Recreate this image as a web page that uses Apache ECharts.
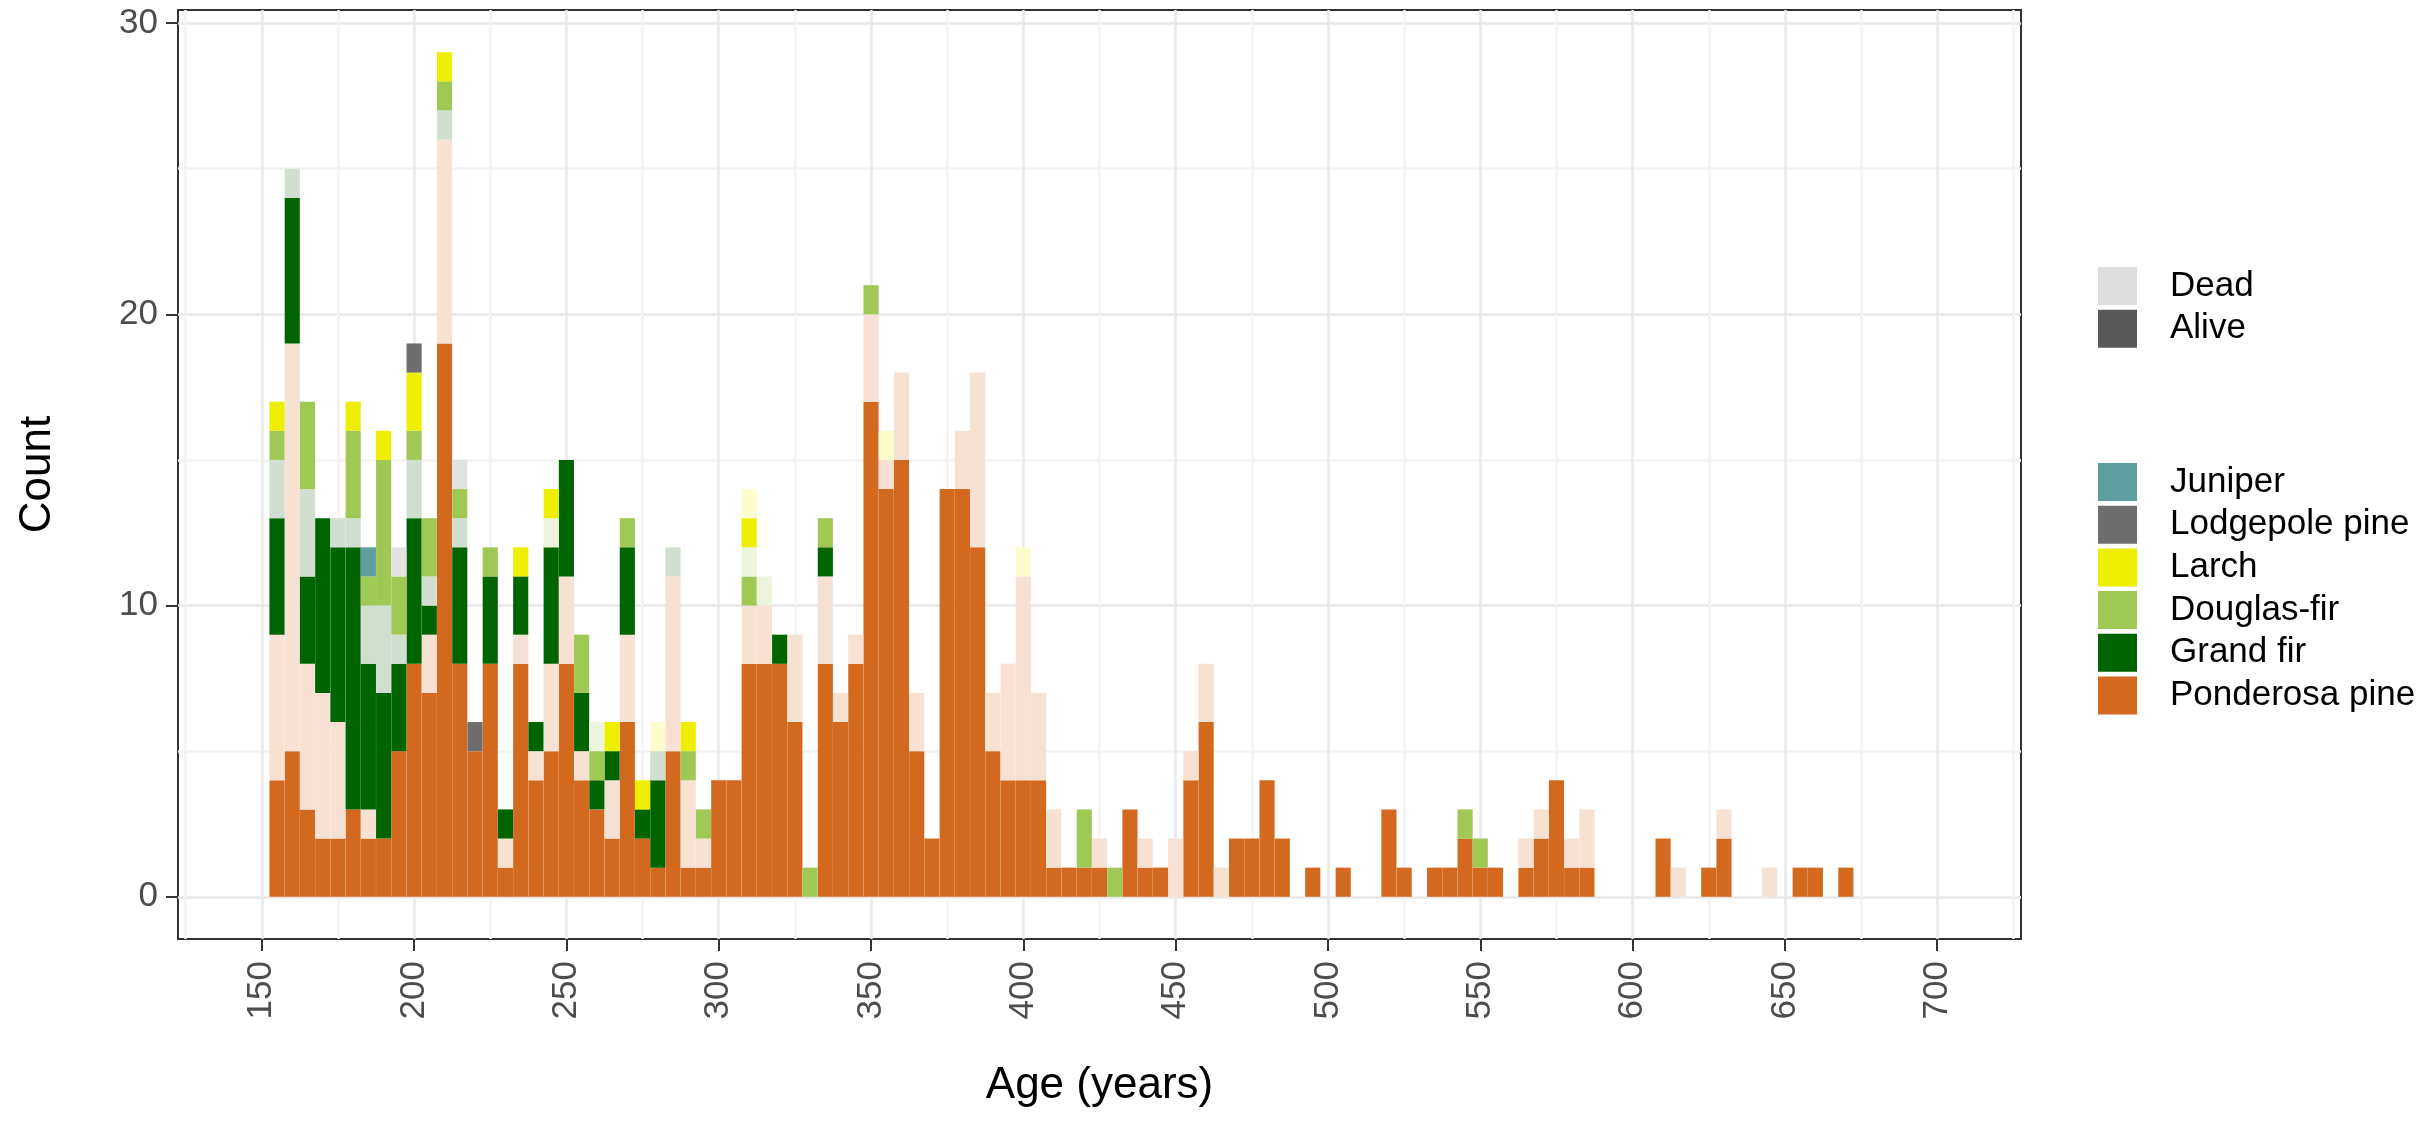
<!DOCTYPE html>
<html><head><meta charset="utf-8">
<script src="https://cdn.jsdelivr.net/npm/echarts@6/dist/echarts.min.js"></script>
<style>html,body{margin:0;padding:0;background:#fff}#c{width:2433px;height:1122px}</style>
</head><body><div id="c"></div>
<script>
// 5-year age bins (bin centres), spanning the full panel range
const bins = [125,130,135,140,145,150,155,160,165,170,175,180,185,190,195,200,205,210,215,220,225,230,235,240,245,250,255,260,265,270,275,280,285,290,295,300,305,310,315,320,325,330,335,340,345,350,355,360,365,370,375,380,385,390,395,400,405,410,415,420,425,430,435,440,445,450,455,460,465,470,475,480,485,490,495,500,505,510,515,520,525,530,535,540,545,550,555,560,565,570,575,580,585,590,595,600,605,610,615,620,625,630,635,640,645,650,655,660,665,670,675,680,685,690,695,700,705,710,715,720,725];
const xTickLabels = [150,200,250,300,350,400,450,500,550,600,650,700];
const xGridLines = [125,150,175,200,225,250,275,300,325,350,375,400,425,450,475,500,525,550,575,600,625,650,675,700,725];
const yTickLabels = [0,10,20,30];
const yGridLines = [0,5,10,15,20,25,30];

// [age bin, count]
const ponderosaAlive = [[155,4],[160,5],[165,3],[170,2],[175,2],[180,3],[185,2],[190,2],[195,5],[200,8],[205,7],[210,19],[215,8],[220,5],[225,8],[230,1],[235,8],[240,4],[245,5],[250,8],[255,4],[260,3],[265,2],[270,6],[275,2],[280,1],[285,5],[290,1],[295,1],[300,4],[305,4],[310,8],[315,8],[320,8],[325,6],[335,8],[340,6],[345,8],[350,17],[355,14],[360,15],[365,5],[370,2],[375,14],[380,14],[385,12],[390,5],[395,4],[400,4],[405,4],[410,1],[415,1],[420,1],[425,1],[435,3],[440,1],[445,1],[455,4],[460,6],[470,2],[475,2],[480,4],[485,2],[495,1],[505,1],[520,3],[525,1],[535,1],[540,1],[545,2],[550,1],[555,1],[565,1],[570,2],[575,4],[580,1],[585,1],[610,2],[625,1],[630,2],[655,1],[660,1],[670,1]];
const ponderosaDead = [[155,5],[160,14],[165,5],[170,5],[175,4],[185,1],[205,2],[210,7],[230,1],[235,1],[240,1],[245,3],[250,3],[255,1],[265,2],[270,3],[285,6],[290,3],[295,1],[310,2],[315,2],[325,3],[335,3],[340,1],[345,1],[350,3],[355,1],[360,3],[365,2],[380,2],[385,6],[390,2],[395,4],[400,7],[405,3],[410,2],[425,1],[440,1],[450,2],[455,1],[460,2],[465,1],[565,1],[570,1],[580,1],[585,2],[615,1],[630,1],[645,1]];
const grandFirAlive = [[155,4],[160,5],[165,3],[170,6],[175,6],[180,9],[185,5],[190,5],[195,3],[200,5],[205,1],[215,4],[225,3],[230,1],[235,2],[240,1],[245,4],[250,4],[255,2],[260,1],[265,1],[270,3],[275,1],[280,3],[320,1],[335,1]];
const grandFirDead = [[155,2],[160,1],[165,3],[175,1],[180,1],[185,2],[190,3],[195,1],[200,2],[205,1],[210,1],[215,1],[280,1],[285,1]];
const douglasFirAlive = [[155,1],[165,3],[180,3],[185,1],[190,5],[195,2],[200,1],[205,2],[210,1],[215,1],[225,1],[255,2],[260,1],[270,1],[290,1],[295,1],[310,1],[330,1],[335,1],[350,1],[420,2],[430,1],[545,1],[550,1]];
const douglasFirDead = [[245,1],[260,1],[310,1],[315,1]];
const larchAlive = [[155,1],[180,1],[190,1],[200,2],[210,1],[235,1],[245,1],[265,1],[275,1],[290,1],[310,1]];
const larchDead = [[280,1],[310,1],[355,1],[400,1]];
const lodgepoleAlive = [[200,1],[220,1]];
const lodgepoleDead = [[195,1],[215,1]];
const juniperAlive = [[185,1]];
const juniperDead = [];

const statusLegend = ['Dead','Alive'];
const speciesLegend = ['Juniper','Lodgepole pine','Larch','Douglas-fir','Grand fir','Ponderosa pine'];

const FONT = '"Liberation Sans", Arial, Helvetica, sans-serif';
const stackDefs = [
  ['Ponderosa pine alive', ponderosaAlive, '#D2691E'],
  ['Ponderosa pine dead', ponderosaDead, '#F6E1D2'],
  ['Grand fir alive', grandFirAlive, '#006400'],
  ['Grand fir dead', grandFirDead, '#D0DFD0'],
  ['Douglas-fir alive', douglasFirAlive, '#A0C855'],
  ['Douglas-fir dead', douglasFirDead, '#ECF4DD'],
  ['Larch alive', larchAlive, '#EEEE00'],
  ['Larch dead', larchDead, '#FCFCCC'],
  ['Lodgepole pine alive', lodgepoleAlive, '#6E6E6E'],
  ['Lodgepole pine dead', lodgepoleDead, '#E2E2E2'],
  ['Juniper alive', juniperAlive, '#5F9EA0'],
  ['Juniper dead', juniperDead, '#DFECEC']
];
const legendColors = {
  'Dead':'#DEDEDE','Alive':'#595959',
  'Juniper':'#5F9EA0','Lodgepole pine':'#6E6E6E','Larch':'#EEEE00',
  'Douglas-fir':'#A0C855','Grand fir':'#006400','Ponderosa pine':'#D2691E'
};

const series = stackDefs.map(([name, arr, color]) => ({
  name, type:'bar', stack:'total', xAxisIndex:0, yAxisIndex:0,
  barWidth:'99.3%', itemStyle:{color}, emphasis:{disabled:true},
  data: arr.map(([a,c]) => [String(a), c])
}));
Object.keys(legendColors).forEach(n => series.push({
  name:n, type:'scatter', xAxisIndex:0, yAxisIndex:0, data:[],
  itemStyle:{color:legendColors[n], opacity:1}
}));

const legendBase = {
  orient:'vertical', left:2093, icon:'rect', itemWidth:39, itemHeight:38,
  itemGap:4.7, selectedMode:false,
  formatter: n => '{t|' + n + '}',
  textStyle:{fontFamily:FONT, fontSize:35, color:'#000',
    rich:{t:{fontFamily:FONT, fontSize:35, color:'#000', lineHeight:38, padding:[0,0,0,28]}}}
};

const chart = echarts.init(document.getElementById('c'));
chart.setOption({
  animation:false,
  backgroundColor:'#ffffff',
  grid:{left:178, top:10, width:1843, height:929, show:true, borderColor:'#333333', borderWidth:2, backgroundColor:'#ffffff', containLabel:false},
  legend:[
    Object.assign({}, legendBase, {top:262, data:statusLegend}),
    Object.assign({}, legendBase, {top:458, data:speciesLegend})
  ],
  xAxis:[
    {type:'category', data:bins.map(String), boundaryGap:true, position:'bottom',
     name:'Age (years)', nameLocation:'middle', nameGap:125,
     nameTextStyle:{fontFamily:FONT, fontSize:44, color:'#000'},
     axisLine:{show:false, onZero:false},
     axisTick:{show:true, alignWithLabel:true, length:12, lineStyle:{color:'#333', width:2},
       interval:(i,v) => xTickLabels.indexOf(Number(v)) >= 0},
     axisLabel:{show:true, rotate:90, margin:22, fontFamily:FONT, fontSize:35, color:'#4D4D4D',
       interval:(i,v) => xTickLabels.indexOf(Number(v)) >= 0},
     splitLine:{show:false}},
    {type:'value', min:122.5, max:727.5, position:'top',
     axisLine:{show:false, onZero:false}, axisLabel:{show:false},
     axisTick:{show:false, customValues:xGridLines},
     splitLine:{show:true, lineStyle:{color:['#F3F3F3','#E8E8E8'], width:2.5}}}
  ],
  yAxis:[
    {type:'value', min:-1.45, max:30.45, position:'left',
     name:'Count', nameLocation:'middle', nameGap:118,
     nameTextStyle:{fontFamily:FONT, fontSize:44, color:'#000'},
     axisLine:{show:false, onZero:false},
     axisTick:{show:true, length:12, lineStyle:{color:'#333', width:2}, customValues:yTickLabels},
     axisLabel:{show:true, margin:20, fontFamily:FONT, fontSize:35, color:'#4D4D4D', customValues:yTickLabels},
     splitLine:{show:false}},
    {type:'value', min:-1.45, max:30.45, position:'right',
     axisLine:{show:false, onZero:false}, axisLabel:{show:false},
     axisTick:{show:false, customValues:yGridLines},
     splitLine:{show:true, lineStyle:{color:['#E8E8E8','#F3F3F3'], width:2.5}}}
  ],
  series
});
</script></body></html>
